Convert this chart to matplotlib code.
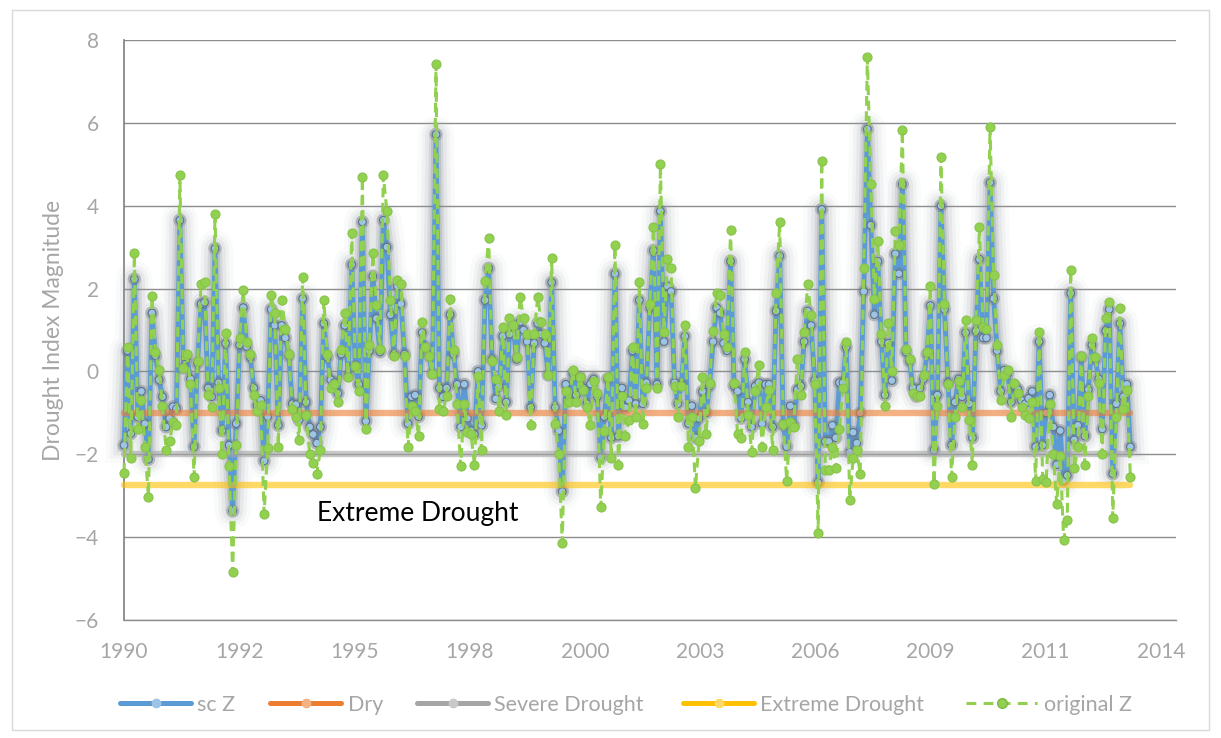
import datetime
import numpy as np
import matplotlib
matplotlib.use("Agg")
import matplotlib.pyplot as plt
import matplotlib.dates as mdates
import matplotlib.patheffects as pe
from matplotlib.lines import Line2D
from matplotlib.patches import Rectangle

# ---------------- data (monthly values, Jan 1990 - Dec 2013) ----------------
sc_z = [
    -1.78, 0.5, -1.5, 2.23, -1.1, -0.48, -1.26, -2.12, 1.41, 0.38, -0.2, -0.61,
    -1.34, -1.13, -0.85, -0.9, 3.65, 0.08, 0.34, -0.18, -1.82, 0.2, 1.63, 1.67,
    -0.4, -0.61, 2.97, -0.27, -1.43, 0.68, -1.78, -3.37, -1.26, 0.64, 1.54, 0.6,
    0.34, -0.4, -0.83, -0.7, -2.16, -1.09, 1.5, 1.11, -1.3, 1.11, 0.81,
    0.38, -0.78, -0.8, -1.17, 1.76, -0.74, -1.34, -1.52, -1.73, -1.34, 1.16, 0.34,
    -0.2, -0.27, -0.53, 0.42, 1.11, -0.1, 2.58, 0.12, -0.31, 3.61, -1.2, 0.5,
    2.3, 1.28, 0.47, 3.65, 3.0, 1.37, 0.42, 2.06, 1.63, 0.42, -1.26,
    -0.61, -0.57, -1.09, 0.94, 0.59, 0.38, -0.05, 5.72, -0.4, -0.61, -0.4, 1.37,
    0.42, -0.31, -1.34, -0.31, -1.13, -1.43, -1.52, 0.0, -1.3, 1.72, 2.49, 0.29,
    -0.66, -0.35, 0.85, -0.74, 0.9, 1.11, 0.29, 1.2, 1.0, 0.72, -0.87,
    0.68, 1.16, 0.9, 0.68, -0.09, 2.15, -0.87, -1.43, -2.9, -0.31, -0.7, -0.05,
    -0.57, -0.14, -0.4, -0.78, -0.3, -0.18, -0.61, -2.08, -1.09, -0.18, -1.6, 2.36,
    -1.56, -0.4, -0.87, -0.7, 0.5, -0.78, 1.72, -0.78, -0.27, 1.54, 2.92,
    -0.31, 3.87, 0.72, 2.06, 1.93, -0.27, -0.78, -0.31, 0.85, -1.26, -0.83, -1.6,
    -1.13, -0.48, -1.0, -0.35, 0.72, 1.54, 1.41, 0.68, 0.5, 2.66, -0.35, -0.48,
    -1.13, 0.29, -0.74, -1.34, -0.35, -0.27, -1.26, -0.31, -0.31, -1.34, 1.46,
    2.79, -1.3, -1.82, -0.83, -1.3, -0.44, -0.35, 0.72, 1.46, 1.11, -0.22, -2.68,
    3.91, -1.69, -1.69, -1.3, -1.6, -0.27, -0.27, 0.59, -1.95, -1.47, -1.73, -1.0,
    1.93, 5.85, 3.53, 1.37, 2.66, 0.72, -0.57, 0.68, -0.22, 2.84, 2.36,
    4.52, 0.47, 0.25, -0.4, -0.6, -0.4, -0.18, 0.42, 1.59, -1.9, -0.57, 4.0,
    1.5, -0.27, -1.78, -0.74, -0.18, -0.61, 0.94, -0.78, -1.6, 0.98, 2.71, 0.81,
    0.81, 4.56, 1.76, 0.5, -0.48, 0.03, -0.05, -0.74, -0.35, -0.44, -0.7,
    -0.78, -0.65, -0.48, -1.82, 0.72, -1.78, -1.0, -0.57, -1.34, -2.25, -1.43, -2.64,
    -2.51, 1.89, -1.65, -1.3, 0.34, -1.56, -0.44, 0.64, 0.29, -0.18, -1.39, 0.98,
    1.5, -2.47, -0.78, 1.16, -0.61, -0.31, -1.82,
]

original_z = [
    -2.45, 0.6, -2.08, 2.85, -1.4, -0.7, -1.82, -3.03, 1.82, 0.47, 0.03, -0.83,
    -1.9, -1.69, -1.22, -1.3, 4.73, 0.08, 0.42, -0.31, -2.55, 0.25, 2.12, 2.16,
    -0.57, -0.87, 3.81, -0.4, -1.99, 0.92, -2.29, -4.84, -1.78, 0.81, 1.97, 0.7,
    0.42, -0.57, -0.96, -0.8, -3.43, -1.86, 1.84, 1.4, -1.82, 1.72, 1.03,
    0.42, -0.91, -1.1, -1.65, 2.28, -1.04, -1.99, -2.2, -2.47, -1.9, 1.72, 0.42,
    -0.4, -0.3, -0.74, 0.51, 1.41, -0.14, 3.35, 0.12, -0.48, 4.69, -1.39, 0.64,
    2.85, 1.6, 0.55, 4.73, 3.87, 1.72, 0.38, 2.2, 2.1, 0.38, -1.82,
    -0.83, -0.96, -1.56, 1.2, 0.6, 0.38, -0.05, 7.42, -0.91, -0.96, -0.6, 1.76,
    0.51, -0.78, -2.29, -0.78, -1.47, -1.52, -2.25, -0.1, -1.9, 2.19, 3.22, 0.25,
    -0.18, -0.96, 1.07, -1.04, 1.28, 1.11, 0.34, 1.8, 1.28, 0.9, -1.3,
    0.9, 1.8, 1.2, 0.9, -0.09, 2.75, -1.26, -1.99, -4.13, -0.48, -0.74, 0.03,
    -0.74, -0.14, -0.45, -0.87, -1.3, -0.22, -0.52, -3.28, -1.43, -0.14, -2.08, 3.05,
    -2.25, -0.6, -1.56, -1.17, 0.59, -1.1, 2.15, -1.26, -0.4, 1.63, 3.48,
    -0.4, 5.0, 0.94, 2.71, 2.49, -0.36, -1.09, -0.36, 1.11, -1.82, -1.1, -2.81,
    -1.69, -0.14, -1.52, -0.27, 0.98, 1.89, 1.85, 0.9, 0.6, 3.42, -0.27, -1.52,
    -1.61, 0.46, -1.04, -1.95, -0.48, 0.16, -1.82, -0.87, -0.44, -1.9, 1.89,
    3.61, -1.26, -2.64, -1.22, -1.34, 0.29, -0.57, 0.94, 2.1, 1.37, -0.31, -3.89,
    5.09, -2.38, -2.38, -1.82, -2.34, -1.39, -0.4, 0.72, -3.11, -2.08, -1.9, -2.47,
    2.5, 7.58, 4.52, 1.76, 3.14, 0.9, -0.83, 1.16, 0.0, 3.4, 3.05,
    5.83, 0.55, 0.29, -0.52, -0.6, -0.6, -0.09, 0.47, 2.06, -2.72, -0.83, 5.18,
    1.63, -0.31, -2.55, -1.09, -0.22, -0.87, 1.24, -1.17, -2.25, 1.24, 3.48, 1.07,
    1.02, 5.9, 2.32, 0.64, -0.7, -0.09, 0.03, -1.09, -0.27, -0.52, -0.87,
    -1.04, -1.13, -0.74, -2.64, 0.94, -2.6, -2.68, -0.78, -1.99, -3.2, -2.03, -4.06,
    -3.59, 2.45, -2.34, -1.82, 0.38, -2.25, -0.6, 0.81, 0.34, -0.27, -1.99, 1.28,
    1.67, -3.54, -1.09, 1.54, -0.91, -0.44, -2.55,
]

dry_level = -1.0
severe_level = -2.0
extreme_level = -2.75

series_names = ["sc Z", "Dry", "Severe Drought", "Extreme Drought", "original Z"]
y_ticks = [-6, -4, -2, 0, 2, 4, 6, 8]
x_tick_step_days = 1000
n_x_ticks = 10

# ---------------- dates ----------------
n = min(len(sc_z), len(original_z))
sc_z = sc_z[:n]
original_z = original_z[:n]
dates = [datetime.date(1990 + m // 12, m % 12 + 1, 1) for m in range(n)]
x = mdates.date2num(dates)
x0 = mdates.date2num(datetime.date(1990, 1, 1))
x1 = mdates.date2num(datetime.date(2015, 1, 1))

plt.rcParams["font.family"] = ["Lato", "DejaVu Sans"]

W, H = 1221, 738
fig = plt.figure(figsize=(W / 100, H / 100), dpi=100)
fig.patches.append(Rectangle((12 / W, 8 / H), 1 - 24 / W, 1 - 18 / H, transform=fig.transFigure,
                             fill=False, edgecolor="#D9D9D9", linewidth=1.0))

ax = fig.add_axes([124 / W, 1 - 620 / H, (1176 - 124) / W, 580 / H])
ax.set_xlim(x0, x1)
ax.set_ylim(-6, 8)

grid_c = "#8C8C8C"
ax.set_yticks(y_ticks)
ax.yaxis.grid(True, color=grid_c, linewidth=1.0)
ax.set_axisbelow(True)
for s in ["top", "right"]:
    ax.spines[s].set_visible(False)
ax.spines["left"].set_color("#7F7F7F")
ax.spines["left"].set_linewidth(1.2)
ax.spines["bottom"].set_color(grid_c)
ax.spines["bottom"].set_linewidth(1.0)

xt = [x0 + k * x_tick_step_days for k in range(n_x_ticks)]
ax.set_xticks(xt)
ax.set_xticklabels([str(mdates.num2date(v).year) for v in xt])
lab_c = "#A6A6A6"
ax.tick_params(axis="both", length=0, labelcolor=lab_c, labelsize=15)
ax.tick_params(axis="y", pad=18)
ax.tick_params(axis="x", pad=16)
ax.set_ylabel("Drought Index Magnitude", color=lab_c, fontsize=16.5, labelpad=8)

# sc Z line with soft glow
glow = [pe.Stroke(linewidth=26, foreground="#A4AAB0", alpha=0.06),
        pe.Stroke(linewidth=20, foreground="#969DA4", alpha=0.08),
        pe.Stroke(linewidth=15, foreground="#8A9199", alpha=0.11),
        pe.Stroke(linewidth=10, foreground="#7F8790", alpha=0.16),
        pe.Stroke(linewidth=6.5, foreground="#737B84", alpha=0.22),
        pe.Normal()]
ax.plot(x, sc_z, color="#5B9BD5", linewidth=3.5, zorder=3, clip_on=False,
        solid_joinstyle="round", path_effects=glow)
ax.plot(x, sc_z, linestyle="none", marker="o", markersize=5.5,
        markerfacecolor="#9DC3E6", markeredgecolor="#5E7288", markeredgewidth=0.8,
        zorder=3.2, clip_on=False,
        path_effects=[pe.Stroke(linewidth=4, foreground="#6F7780", alpha=0.35), pe.Normal()])

# threshold lines
for lvl, col in [(dry_level, "#ED7D31"), (severe_level, "#A5A5A5"), (extreme_level, "#FFC000")]:
    ax.plot(x, np.full(n, lvl), color=col, alpha=0.6, linewidth=4.6,
            solid_capstyle="round", zorder=4, clip_on=False)

# original Z
ax.plot(x, original_z, color="#92D050", linewidth=2.2, linestyle=(0, (3.2, 1.8)),
        marker="o", markersize=6.5, markerfacecolor="#92D050", markeredgecolor="#86C34A",
        markeredgewidth=0.8, zorder=5, clip_on=False)

ax.text(mdates.date2num(datetime.date(1994, 8, 1)), -3.42, "Extreme Drought",
        fontsize=19, color="black", va="center", ha="left", zorder=6)

# legend entries positioned like the reference
handles = [
    Line2D([], [], color="#5B9BD5", lw=3.6, marker="o", ms=6, mfc="#9DC3E6", mec="#9DC3E6",
           solid_capstyle="round"),
    Line2D([], [], color="#ED7D31", lw=3.6, marker="o", ms=6, mfc="#F4B183", mec="#F4B183",
           solid_capstyle="round"),
    Line2D([], [], color="#A5A5A5", lw=3.6, marker="o", ms=6, mfc="#C9C9C9", mec="#C9C9C9",
           solid_capstyle="round"),
    Line2D([], [], color="#FFC000", lw=3.6, marker="o", ms=6, mfc="#FFD966", mec="#FFD966",
           solid_capstyle="round"),
    Line2D([], [], color="#92D050", lw=2.2, ls=(0, (3.2, 2.4)), marker="o", ms=7,
           mfc="#92D050", mec="#7FB847"),
]
starts = [120, 270, 417, 683, 966]
for h, name, sx in zip(handles, series_names, starts):
    fig.legend([h], [name], loc="center left", bbox_to_anchor=(sx / W, 1 - 705 / H),
               frameon=False, fontsize=15.5, labelcolor=lab_c, handlelength=3.3,
               handletextpad=0.3, borderpad=0, borderaxespad=0)

fig.savefig("out.png", dpi=100)
